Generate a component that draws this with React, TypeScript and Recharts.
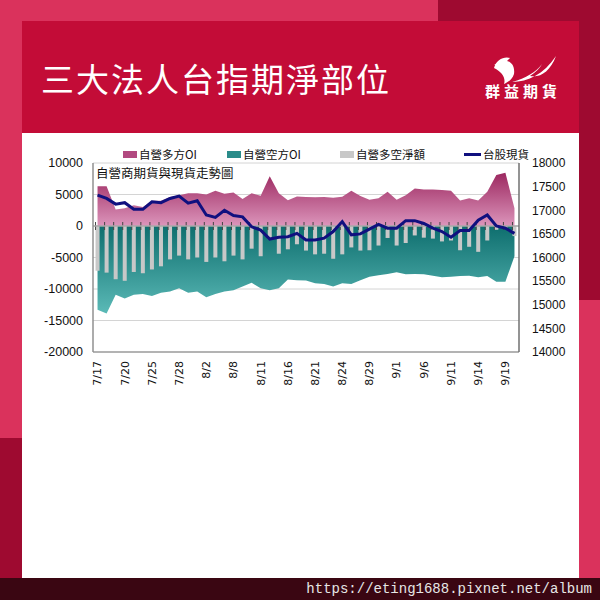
import React from 'react';
import { ComposedChart, Area, Bar, Line, XAxis, YAxis, CartesianGrid, Legend, ReferenceLine } from 'recharts';

const dates = ['7/17','7/18','7/19','7/20','7/21','7/24','7/25','7/26','7/27','7/28','7/31','8/1','8/2','8/4','8/7','8/8','8/9','8/10','8/11','8/14','8/15','8/16','8/17','8/18','8/21','8/22','8/23','8/24','8/25','8/28','8/29','8/30','8/31','9/1','9/4','9/5','9/6','9/7','9/8','9/11','9/12','9/13','9/14','9/15','9/18','9/19','9/20'];

const longOI = [6300,6300,2600,2800,3300,3000,4000,4000,4600,4900,5200,5200,5000,5600,5100,5300,4300,5200,4800,7900,5200,4100,4700,4600,4550,4600,4500,4650,5600,4750,4150,4400,5450,4150,4900,5950,5800,5800,5700,5600,4050,4400,4050,5450,8100,8450,2800];

const shortOI = [-13300,-13900,-10900,-11500,-10900,-10800,-11100,-10600,-10400,-9900,-10600,-10400,-11300,-10800,-10400,-10200,-9600,-9000,-9900,-10200,-9900,-8500,-8600,-8650,-9100,-9200,-9600,-9100,-9200,-8600,-8050,-7800,-7600,-7350,-7650,-7600,-7650,-7900,-8150,-8050,-7950,-7900,-8150,-7950,-8850,-8850,-4800];

const netOI = [-7100,-7400,-8450,-8700,-7300,-7500,-6900,-6400,-5300,-4700,-5300,-5000,-5700,-5000,-5600,-4700,-5300,-3600,-4800,-2100,-4400,-3700,-2900,-3900,-4500,-4400,-5200,-4500,-3400,-3900,-3850,-3100,-1900,-3100,-2700,-1500,-1850,-2000,-2450,-2300,-3850,-3300,-4100,-2300,-600,-400,-1600];

const spotIndex = [17320,17250,17130,17160,17020,17020,17180,17160,17250,17300,17150,17200,16900,16850,17000,16890,16860,16650,16580,16390,16430,16440,16510,16370,16370,16410,16550,16760,16480,16500,16600,16700,16620,16620,16780,16780,16720,16620,16550,16430,16570,16570,16790,16900,16670,16620,16510];

const leftTicks = [-20000, -15000, -10000, -5000, 0, 5000, 10000];
const rightTicks = [14000, 14500, 15000, 15500, 16000, 16500, 17000, 17500, 18000];

const NAME_LONG = '自營多方OI';
const NAME_SHORT = '自營空方OI';
const NAME_NET = '自營多空淨額';
const NAME_SPOT = '台股現貨';
const TITLE = '三大法人台指期淨部位';
const SUBTITLE = '自營商期貨與現貨走勢圖';
const BRAND = '群益期貨';
const URL_TEXT = 'https://eting1688.pixnet.net/album';

const data = dates.map((d, i) => ({
  date: d,
  long: longOI[i],
  short: shortOI[i],
  net: netOI[i],
  spot: spotIndex[i],
}));

const legendItems = [
  { name: NAME_LONG, kind: 'rect', color: '#B24A80', left: 123 },
  { name: NAME_SHORT, kind: 'rect', color: '#2A8C8A', left: 227 },
  { name: NAME_NET, kind: 'rect', color: '#C8C8C8', left: 340 },
  { name: NAME_SPOT, kind: 'line', color: '#10107F', left: 464 },
];

const renderLegend = () => (
  <div style={{ position: 'relative', width: 600, height: 14 }}>
    {legendItems.map((it) => (
      <div key={it.name} style={{ position: 'absolute', left: it.left, top: 0, height: 14, display: 'flex', alignItems: 'center', whiteSpace: 'nowrap' }}>
        {it.kind === 'rect' ? (
          <span style={{ display: 'inline-block', width: 14, height: 7, background: it.color, marginRight: 2 }} />
        ) : (
          <span style={{ display: 'inline-block', width: 17, height: 3, background: it.color, marginRight: 2 }} />
        )}
        <span style={{ fontSize: 11.5, lineHeight: '14px', color: '#111', fontFamily: '"Noto Sans CJK TC", sans-serif' }}>{it.name}</span>
      </div>
    ))}
  </div>
);

const NetBarShape = (props: any) => {
  const { x, y, width, height, fill, background } = props;
  const top = Math.min(y, y + height);
  const h = Math.abs(height);
  const zeroY = top;
  const bandX = background && typeof background.x === 'number' ? background.x : null;
  return (
    <g>
      <rect x={x} y={top} width={width} height={h} fill={fill} />
      {bandX !== null && (
        <line x1={bandX} x2={bandX} y1={zeroY - 4} y2={zeroY + 4} stroke="#444" strokeWidth={1} />
      )}
    </g>
  );
};

const XTick = (props: any) => {
  const { x, y, payload } = props;
  const ty = y + 9;
  return (
    <text x={x} y={ty} transform={`rotate(-90, ${x}, ${ty})`} textAnchor="end" dy="0.35em" fontSize={11} fill="#111" fontFamily='"DejaVu Sans", sans-serif'>
      {payload.value}
    </text>
  );
};

export default function App() {
  return (
    <div style={{ position: 'absolute', left: 0, top: 0, width: 600, height: 600, background: '#DA325C', overflow: 'hidden', fontFamily: '"Noto Sans CJK TC", sans-serif' }}>
      <div style={{ position: 'absolute', left: 438, top: 0, width: 162, height: 21, background: '#9E0A30' }} />
      <div style={{ position: 'absolute', left: 579, top: 0, width: 21, height: 300, background: '#9E0A30' }} />
      <div style={{ position: 'absolute', left: 0, top: 438, width: 22, height: 140, background: '#9E0A30' }} />
      <div style={{ position: 'absolute', left: 22, top: 21, width: 557, height: 112, background: '#C30C37' }} />
      <div style={{ position: 'absolute', left: 22, top: 133, width: 557, height: 445, background: '#FFFFFF' }} />
      <div style={{ position: 'absolute', left: 41, top: 56, height: 44, lineHeight: '44px', fontSize: 33, letterSpacing: 2, color: '#FFFFFF', whiteSpace: 'nowrap' }}>{TITLE}</div>
      <svg style={{ position: 'absolute', left: 490, top: 54 }} width={70} height={32} viewBox="0 0 70 32">
        <path d="M4 14 C 6 6, 14 2, 20 4 L 17 7 C 22 8, 25 13, 24 20 C 22 26, 18 28, 14 30 C 16 24, 12 18, 4 14 Z" fill="#FFFFFF" />
        <path d="M10 8 L 4 11 L 9 11 Z" fill="#FFFFFF" />
        <path d="M22 28 C 38 28, 54 20, 66 2 C 60 18, 50 24, 40 22 C 46 18, 50 14, 52 10 C 46 18, 36 24, 22 28 Z" fill="#FFFFFF" />
      </svg>
      <div style={{ position: 'absolute', left: 485, top: 82, height: 18, lineHeight: '18px', fontSize: 15, letterSpacing: 4, fontWeight: 700, color: '#FFFFFF', whiteSpace: 'nowrap' }}>{BRAND}</div>
      <div style={{ position: 'absolute', left: 0, top: 578, width: 600, height: 22, background: '#3A0612' }} />
      <div style={{ position: 'absolute', right: 8, top: 580, height: 18, lineHeight: '18px', fontSize: 14, fontFamily: '"Liberation Mono", monospace', color: '#E6E6E6', whiteSpace: 'nowrap' }}>{URL_TEXT}</div>

      <div style={{ position: 'absolute', left: 0, top: 0 }}>
        <ComposedChart width={600} height={420} data={data} margin={{ top: 163, right: 21, bottom: 28, left: 33 }} barCategoryGap="28%">
          <defs>
            <linearGradient id="gradLong" x1="0" y1="0" x2="0" y2="1">
              <stop offset="0%" stopColor="#9C2860" />
              <stop offset="100%" stopColor="#DC95BB" />
            </linearGradient>
            <linearGradient id="gradShort" x1="0" y1="0" x2="0" y2="1">
              <stop offset="0%" stopColor="#0E6E6E" />
              <stop offset="100%" stopColor="#5BBAB7" />
            </linearGradient>
          </defs>
          <CartesianGrid yAxisId="left" vertical={false} horizontal={true} stroke="#D4D4D4" strokeWidth={1} />
          <XAxis dataKey="date" interval={2} tick={<XTick />} tickLine={false} tickSize={0} tickMargin={0} height={40} axisLine={{ stroke: '#A0A0A0', strokeWidth: 1.5 }} />
          <XAxis xAxisId="top" dataKey="date" orientation="top" tick={false} tickLine={false} height={0} axisLine={{ stroke: '#909090', strokeWidth: 1.5 }} />
          <YAxis yAxisId="left" domain={[-20000, 10000]} ticks={leftTicks} interval={0} allowDataOverflow width={60} tickLine={false} tickSize={0} tickMargin={10} axisLine={{ stroke: '#909090', strokeWidth: 1.5 }} tick={{ fontSize: 12.5, fill: '#111', fontFamily: '"Liberation Sans", Arial, sans-serif' }} />
          <YAxis yAxisId="right" orientation="right" domain={[14000, 18000]} ticks={rightTicks} interval={0} allowDataOverflow width={60} tickLine={false} tickSize={0} tickMargin={13} axisLine={{ stroke: '#707070', strokeWidth: 1.5 }} tick={{ fontSize: 12, fill: '#111', fontFamily: '"Liberation Sans", Arial, sans-serif' }} />
          <Legend verticalAlign="middle" align="center" layout="horizontal" wrapperStyle={{ position: 'absolute', top: 147, left: 0, width: 600, height: 14 }} content={renderLegend} />
          <Area yAxisId="left" type="linear" dataKey="long" name={NAME_LONG} baseValue={0} stroke="none" fill="url(#gradLong)" fillOpacity={1} isAnimationActive={false} />
          <Area yAxisId="left" type="linear" dataKey="short" name={NAME_SHORT} baseValue={0} stroke="none" fill="url(#gradShort)" fillOpacity={1} isAnimationActive={false} />
          <ReferenceLine yAxisId="left" y={0} stroke="#A8A8A8" strokeWidth={1.5} />
          <Bar yAxisId="left" dataKey="net" name={NAME_NET} fill="#C8C8C8" shape={<NetBarShape />} isAnimationActive={false} />
          <Line yAxisId="right" type="linear" dataKey="spot" name={NAME_SPOT} stroke="#10107F" strokeWidth={3} dot={false} activeDot={false} isAnimationActive={false} />
        </ComposedChart>
      </div>
      <div style={{ position: 'absolute', left: 96, top: 165, height: 16, lineHeight: '16px', fontSize: 12.5, color: '#111', whiteSpace: 'nowrap' }}>{SUBTITLE}</div>
    </div>
  );
}
